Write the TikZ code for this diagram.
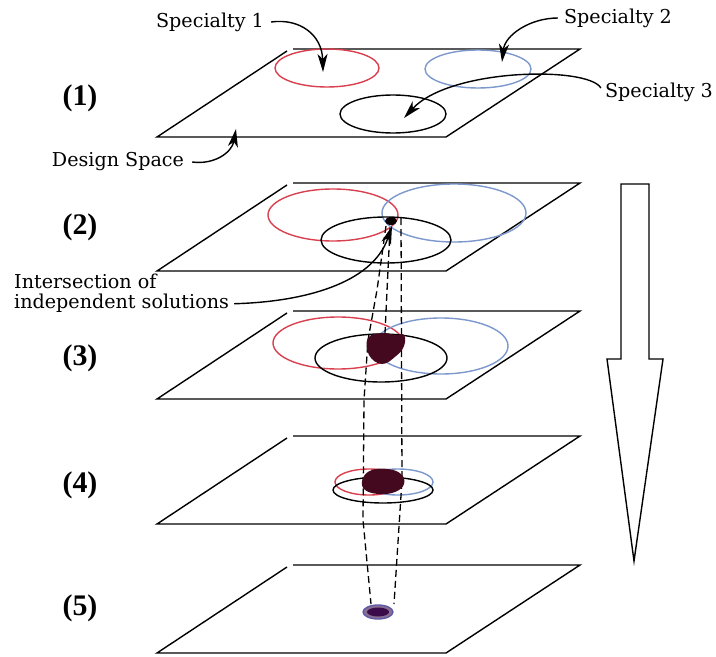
\documentclass[tikz,border=0pt]{standalone}
\usepackage{fontspec}
\setmainfont{DejaVu Serif}
\newfontfamily\numfont{Liberation Serif}
\usetikzlibrary{arrows.meta}
\definecolor{rd}{HTML}{D8404F}
\definecolor{bl}{HTML}{7C98CC}
\definecolor{blobc}{HTML}{45091F}
\definecolor{tinyc}{HTML}{3A0D4A}
\definecolor{tinyring}{HTML}{5A5AA8}
\begin{document}
\begin{tikzpicture}[x=1bp,y=-1bp,
  plane/.style={line width=1.4bp, black, line join=miter},
  spec/.style={line width=1.4bp},
  lbl/.style={font=\fontsize{19.2}{22}\selectfont, inner sep=0pt},
  num/.style={font=\numfont\bfseries\fontsize{30}{32}\selectfont, inner sep=0pt},
  callout/.style={line width=1.4bp, -{Stealth[length=18bp,width=10bp,inset=5bp]}},
  hidden/.style={dash pattern=on 7bp off 4bp, line width=1.3bp},
  bigarrow/.style={line width=1.4bp, line join=miter}
]
\useasboundingbox (0,0) rectangle (716,657);
\fill[white] (0,0) rectangle (716,657);

% planes
\foreach \yt in {49,183,311,436,565}{
  \draw[plane] (287,{\yt+2}) -- (157,{\yt+88}) -- (446,{\yt+88}) -- (580,\yt) -- (293,\yt);
}

% plane 1
\draw[spec, rd] (327,68) ellipse [x radius=52, y radius=19];
\draw[spec, bl] (478,69) ellipse [x radius=53, y radius=19];
\draw[spec] (393,114) ellipse [x radius=53, y radius=19];

% plane 2
\draw[spec, rd] (333,215) ellipse [x radius=65, y radius=26];
\draw[spec, bl] (454,213) ellipse [x radius=72, y radius=29];
\draw[spec] (386,240) ellipse [x radius=65, y radius=23];
\fill[black!90!blobc] (391,221) ellipse [x radius=6, y radius=4];

% plane 3
\draw[spec, rd] (338,343) ellipse [x radius=65, y radius=26];
\draw[spec, bl] (441,346) ellipse [x radius=67, y radius=28];
\draw[spec] (381,358) ellipse [x radius=66, y radius=24];

% plane 4
\draw[spec, rd] (369,482) ellipse [x radius=34, y radius=13];
\draw[spec, bl] (398,482) ellipse [x radius=35, y radius=13];
\draw[spec] (383,490) ellipse [x radius=50, y radius=13];

% dashed projection lines
\coordinate (la) at (386,226);
\coordinate (lb) at (377,290);
\coordinate (lc) at (368,340);
\coordinate (ld) at (364,400);
\coordinate (le) at (363,520);
\coordinate (lf) at (371,604);
\draw[hidden] (la) -- (lb) -- (lc) -- (ld) -- (le) -- (lf);
\coordinate (ma) at (390,228);
\coordinate (mb) at (385,333);
\draw[hidden] (ma) -- (mb);
\coordinate (ra) at (401,218);
\coordinate (rb) at (402,480);
\coordinate (rc) at (394,604);
\draw[hidden] (ra) -- (rb) -- (rc);

% blobs
\fill[blobc] plot[smooth cycle, tension=0.7] coordinates {(368,338) (382,333) (395,335) (404,335) (404,346) (396,356) (382,364) (369,355)};
\fill[blobc] plot[smooth cycle, tension=0.7] coordinates {(363,478) (372,470) (388,469) (401,474) (404,484) (395,492) (378,494) (364,489)};

% plane 5
\fill[tinyc!60!white] (378,612) ellipse [x radius=15, y radius=7];
\draw[tinyring, line width=1.3bp] (378,612) ellipse [x radius=15, y radius=7];
\fill[tinyc] (378,612) ellipse [x radius=11, y radius=4.5];

% big arrow
\draw[bigarrow] (621,184) -- (649,184) -- (649,359) -- (663,359) -- (634,561) -- (607,359) -- (621,359) -- cycle;

% labels
\node[num] (n1) at (80,98) {(1)};
\node[num] (n2) at (80,227) {(2)};
\node[num] (n3) at (80,358) {(3)};
\node[num] (n4) at (80,485) {(4)};
\node[num] (n5) at (80,608) {(5)};

\node[lbl] (sp1) at (210,22) {Specialty 1};
\node[lbl] (sp2) at (618,18) {Specialty 2};
\node[lbl] (sp3) at (659,92) {Specialty 3};
\node[lbl] (ds) at (118,162) {Design Space};
\node[lbl, anchor=base west] (is1) at (14,288) {Intersection of};
\node[lbl, anchor=base west] (is2) at (14,308) {independent solutions};

% callouts
\coordinate (t1) at (323,72);
\coordinate (t2) at (502,62);
\coordinate (t3) at (404,118);
\coordinate (td) at (236,129);
\coordinate (ti) at (392,226);
\draw[callout] ([xshift=7bp]sp1.east) .. controls (300,18) and (322,35) .. (t1);
\draw[callout] ([xshift=-6bp]sp2.west) .. controls (530,18) and (505,35) .. (t2);
\draw[callout] ([xshift=-4bp,yshift=4bp]sp3.west) .. controls (588,66) and (450,68) .. (t3);
\draw[callout] ([xshift=8bp]ds.east) .. controls (215,165) and (232,152) .. (td);
\draw[callout] ([xshift=5bp,yshift=-1bp]is2.east) .. controls (300,302) and (372,285) .. (ti);
\end{tikzpicture}
\end{document}
